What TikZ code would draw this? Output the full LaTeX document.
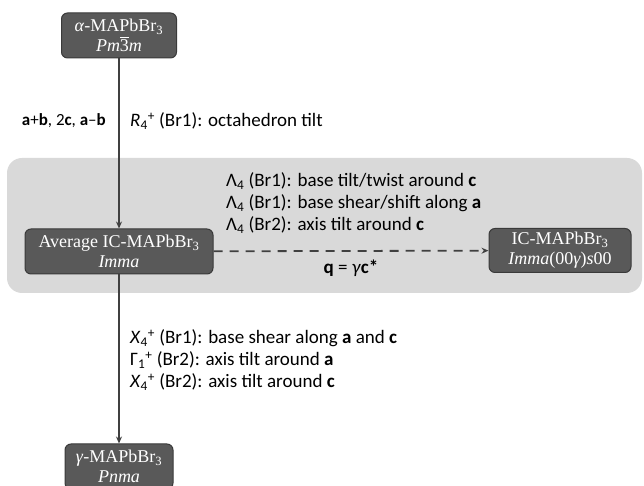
\documentclass[tikz,border=0pt]{standalone}
\usepackage{amsmath}
\usepackage{fontspec}
\setmainfont{Carlito}
\newfontfamily\nodefont{Liberation Serif}
\usetikzlibrary{arrows.meta}
\definecolor{boxfill}{HTML}{595959}
\definecolor{boxline}{HTML}{3A3A3A}
\definecolor{panel}{HTML}{D9D9D9}
\definecolor{linec}{HTML}{404040}
\newcommand{\sps}[2]{\textsubscript{#1}\textsuperscript{#2}}
\begin{document}
\begin{tikzpicture}[x=1pt,y=1pt,
  phase/.style={draw=boxline, line width=1pt, fill=boxfill, rounded corners=6pt,
    text=white, align=center, inner sep=0pt,
    font=\nodefont\fontsize{18}{20}\selectfont},
  lbl/.style={inner sep=0pt, text=black, font=\fontsize{19}{22}\selectfont},
  arr/.style={draw=linec, line width=1.5pt, -{Stealth[length=7pt,width=6pt]}},
  dasharr/.style={draw=linec, line width=1.8pt, dash pattern=on 9pt off 7pt, -{Stealth[length=7pt,width=6pt]}}]
\useasboundingbox (0,0) rectangle (644,486);
\fill[panel, rounded corners=15pt] (7,193) rectangle (642,328);
\node[phase, minimum width=115pt, minimum height=45pt] (top) at (119,450.5)
  {\textit{α}-MAPbBr\textsubscript{3}\\ \textit{Pm}$\overline{\mbox{3}}$\textit{m}};
\node[phase, minimum width=188pt, minimum height=45pt] (avg) at (119,234.5)
  {Average IC-MAPbBr\textsubscript{3}\\ \textit{Imma}};
\node[phase, minimum width=142pt, minimum height=44pt] (ic) at (560,235.5)
  {IC-MAPbBr\textsubscript{3}\\ \textit{Imma}(00\textit{γ})\textit{s}00};
\node[phase, minimum width=108pt, minimum height=45pt] (bot) at (119,19.5)
  {\textit{γ}-MAPbBr\textsubscript{3}\\ \textit{Pnma}};
\draw[arr] (top) -- (avg);
\draw[arr] (avg) -- (bot);
\draw[dasharr] (avg) -- (ic);
\node[lbl, anchor=east, font=\fontsize{17}{20}\selectfont] (basis) at (106,365) {\textbf{a}+\textbf{b}, 2\textbf{c}, \textbf{a}\textendash\textbf{b}};
\node[lbl, anchor=west] (r4) at (130,365) {\textit{R}\sps{4}{+} (Br1): octahedron tilt};
\node[lbl, anchor=west, align=left] (lam) at (226,283)
  {Λ\textsubscript{4} (Br1): base tilt/twist around \textbf{c}\\
   Λ\textsubscript{4} (Br1): base shear/shift along \textbf{a}\\
   Λ\textsubscript{4} (Br2): axis tilt around \textbf{c}};
\node[lbl] (q) at (351,218) {\textbf{q} = \textit{γ}\textbf{c*}};
\node[lbl, anchor=west, align=left] (xg) at (130,126)
  {\textit{X}\sps{4}{+} (Br1): base shear along \textbf{a} and \textbf{c}\\
   Γ\sps{1}{+} (Br2): axis tilt around \textbf{a}\\
   \textit{X}\sps{4}{+} (Br2): axis tilt around \textbf{c}};
\end{tikzpicture}
\end{document}
